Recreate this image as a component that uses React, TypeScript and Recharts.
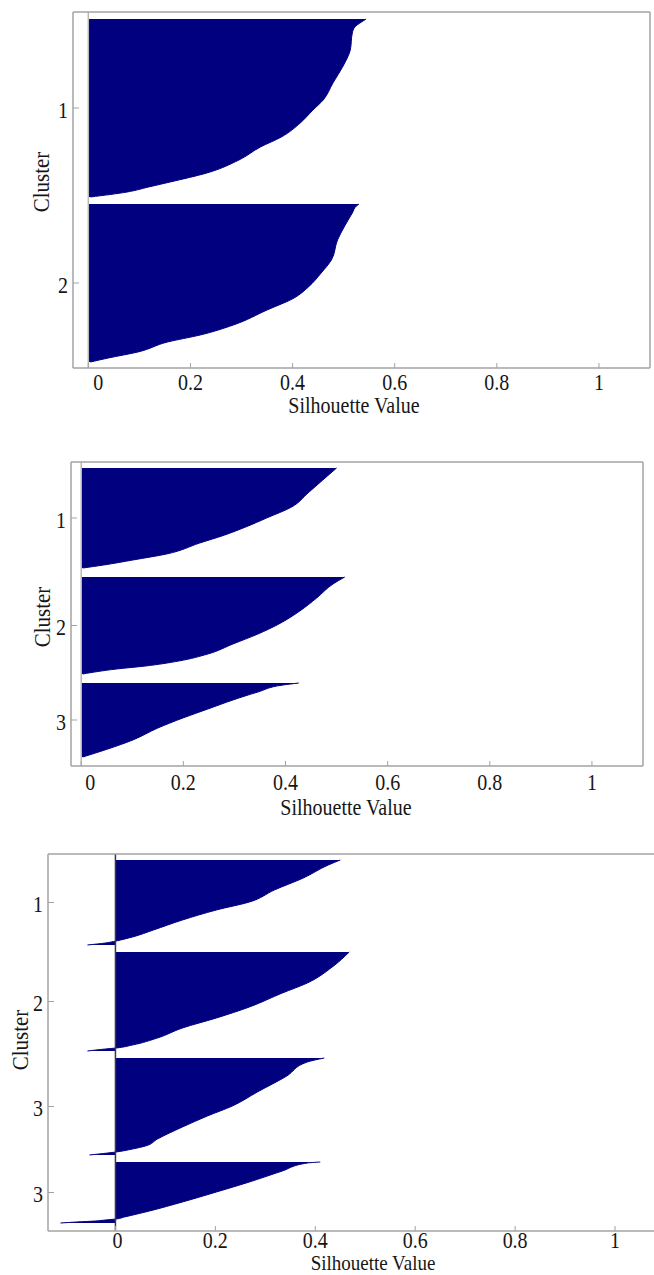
import { Area, ComposedChart, ReferenceLine, XAxis, YAxis } from "recharts"

// silhouette values: obs = rank inside the cluster (0 = best)
const K2_LABELS = ["1", "2"]
const K2_C1_OBS = [0, 3, 8, 14, 31, 47, 64, 81, 91, 104, 118, 128, 141, 154, 163, 168, 173, 178]
const K2_C1_SIL = [0.544, 0.535, 0.522, 0.517, 0.513, 0.499, 0.479, 0.46, 0.44, 0.415, 0.378, 0.337, 0.295, 0.232, 0.16, 0.118, 0.076, 0.004]
const K2_C2_OBS = [0, 2, 9, 23, 36, 56, 69, 83, 94, 106, 121, 131, 138, 148, 154, 158]
const K2_C2_SIL = [0.53, 0.525, 0.517, 0.501, 0.488, 0.476, 0.456, 0.431, 0.403, 0.35, 0.284, 0.219, 0.155, 0.097, 0.039, 0.004]

const K3_LABELS = ["1", "2", "3"]
const K3_C1_OBS = [0, 12, 25, 39, 50, 59, 67, 75, 86, 92, 97, 100]
const K3_C1_SIL = [0.5, 0.473, 0.444, 0.412, 0.363, 0.322, 0.281, 0.232, 0.167, 0.101, 0.044, 0.003]
const K3_C2_OBS = [0, 7, 21, 34, 47, 57, 67, 77, 84, 89, 92, 97]
const K3_C2_SIL = [0.516, 0.493, 0.461, 0.428, 0.387, 0.346, 0.297, 0.248, 0.191, 0.126, 0.069, 0.003]
const K3_C3_OBS = [0, 2, 9, 17, 26, 35, 45, 57, 66, 74]
const K3_C3_SIL = [0.426, 0.395, 0.346, 0.297, 0.248, 0.199, 0.15, 0.101, 0.052, 0.003]

const K4_LABELS = ["1", "2", "3", "3"]
const K4_C1_OBS = [0, 5, 18, 30, 42, 50, 60, 70, 77, 81, 83, 85]
const K4_C1_SIL = [0.45, 0.426, 0.376, 0.318, 0.268, 0.202, 0.134, 0.076, 0.034, 0.001, -0.02, -0.056]
const K4_C2_OBS = [0, 15, 31, 41, 55, 66, 76, 86, 93, 96, 97, 99]
const K4_C2_SIL = [0.468, 0.434, 0.384, 0.334, 0.268, 0.202, 0.134, 0.084, 0.034, 0.001, -0.02, -0.056]
const K4_C3_OBS = [0, 4, 18, 34, 48, 58, 69, 81, 88, 91, 94, 95, 97]
const K4_C3_SIL = [0.418, 0.384, 0.343, 0.284, 0.234, 0.184, 0.134, 0.084, 0.06, 0.034, 0.001, -0.015, -0.052]
const K4_C4_OBS = [0, 1, 9, 20, 30, 40, 49, 55, 57, 58, 59, 60, 61]
const K4_C4_SIL = [0.41, 0.384, 0.334, 0.268, 0.202, 0.134, 0.068, 0.018, 0.001, -0.02, -0.04, -0.078, -0.11]

const X_TICKS = [0, 0.2, 0.4, 0.6, 0.8, 1]

const NAVY = "#01017f"
const FRAME = "#a3a3a3"
const INK = "#161616"
const SERIF = "'Liberation Serif', 'DejaVu Serif', serif"
// the source figure was stretched a little vertically, text too
const STRETCH = 1.12

type Cluster = { obs: number[]; sil: number[] }

function buildRows(clusters: Cluster[], gap: number) {
  const rows: { row: number; s: number | null }[] = []
  const centers: number[] = []
  let start = 0
  clusters.forEach((c) => {
    const last = c.obs[c.obs.length - 1]
    c.obs.forEach((o, i) => rows.push({ row: start + o, s: c.sil[i] }))
    rows.push({ row: start + last + gap / 2, s: null })
    centers.push(start + last / 2)
    start += last + 1 + gap
  })
  return { rows, centers }
}

function Label({ x, y, anchor, text }: { x: number; y: number; anchor: "middle" | "end"; text: string }) {
  return (
    <text
      transform={`translate(${x} ${y}) scale(1 ${STRETCH})`}
      dy="0.35em"
      textAnchor={anchor}
      fontSize={20}
      fontFamily={SERIF}
      style={{ fontFamily: SERIF }}
      fill={INK}
    >
      {text}
    </text>
  )
}

interface PanelProps {
  clusters: Cluster[]
  labels: string[]
  gap: number
  width: number
  height: number
  top: number
  right: number
  leftW: number
  bottomH: number
  xDomain: [number, number]
  yDomain: [number, number]
  labelGap: number
  zeroShift: number
  zeroColor: string
}

function Panel(p: PanelProps) {
  const { rows, centers } = buildRows(p.clusters, p.gap)
  const line = { stroke: FRAME, strokeWidth: 1.5 }

  const xTick = (t: any) => (
    <Label
      x={t.x + (t.payload.value === 0 ? p.zeroShift : 0)}
      y={t.y}
      anchor="middle"
      text={String(t.payload.value)}
    />
  )
  const yTick = (t: any) => (
    <Label x={t.x} y={t.y + 2} anchor="end" text={p.labels[centers.indexOf(t.payload.value)] ?? ""} />
  )

  return (
    <ComposedChart
      width={p.width}
      height={p.height}
      layout="vertical"
      data={rows}
      margin={{ top: p.top - 1, right: p.right - 1, bottom: 0, left: 0 }}
    >
      <XAxis
        xAxisId="b"
        type="number"
        orientation="bottom"
        domain={p.xDomain}
        allowDataOverflow
        ticks={X_TICKS}
        interval={0}
        height={p.bottomH}
        tickSize={-5}
        tickMargin={p.labelGap + 5}
        axisLine={line}
        tickLine={{ stroke: FRAME }}
        tick={xTick}
      />
      <XAxis
        xAxisId="t"
        type="number"
        orientation="top"
        domain={p.xDomain}
        allowDataOverflow
        ticks={X_TICKS}
        interval={0}
        height={1}
        tickSize={-5}
        axisLine={line}
        tickLine={{ stroke: FRAME }}
        tick={false}
      />
      <YAxis
        yAxisId="l"
        type="number"
        dataKey="row"
        orientation="left"
        domain={p.yDomain}
        allowDataOverflow
        ticks={centers}
        interval={0}
        width={p.leftW}
        tickSize={-6}
        tickMargin={11}
        axisLine={line}
        tickLine={{ stroke: FRAME }}
        tick={yTick}
      />
      <YAxis
        yAxisId="r"
        type="number"
        dataKey="row"
        orientation="right"
        domain={p.yDomain}
        allowDataOverflow
        ticks={centers}
        interval={0}
        width={1}
        tickSize={-6}
        axisLine={line}
        tickLine={{ stroke: FRAME }}
        tick={false}
      />
      <ReferenceLine x={0} xAxisId="b" yAxisId="l" stroke={p.zeroColor} strokeWidth={1.5} />
      <Area
        xAxisId="b"
        yAxisId="l"
        dataKey="s"
        type="monotone"
        baseValue={0}
        fill={NAVY}
        fillOpacity={1}
        stroke={NAVY}
        strokeWidth={1}
        dot={false}
        activeDot={false}
        isAnimationActive={false}
      />
    </ComposedChart>
  )
}

function Title({ x, y, text, rotate, size = 20 }: { x: number; y: number; text: string; rotate?: boolean; size?: number }) {
  return (
    <div
      style={{
        position: "absolute",
        left: x,
        top: y,
        transform: rotate
          ? `translate(-50%, -50%) rotate(-90deg) scale(1, ${STRETCH})`
          : `translate(-50%, -50%) scale(1, ${STRETCH})`,
        fontFamily: SERIF,
        fontSize: size,
        lineHeight: 1,
        color: INK,
        whiteSpace: "nowrap",
      }}
    >
      {text}
    </div>
  )
}

export default function App() {
  return (
    <div
      style={{
        position: "absolute",
        left: 0,
        top: 0,
        width: 654,
        height: 1275,
        overflow: "hidden",
        background: "#fff",
      }}
    >
      <div style={{ position: "absolute", left: 0, top: 0 }}>
        <Panel
          clusters={[
            { obs: K2_C1_OBS, sil: K2_C1_SIL },
            { obs: K2_C2_OBS, sil: K2_C2_SIL },
          ]}
          labels={K2_LABELS}
          gap={6}
          width={654}
          height={420}
          top={12}
          right={4}
          leftW={73}
          bottomH={52}
          xDomain={[-0.03, 1.1]}
          yDomain={[-7, 349]}
          labelGap={14}
          zeroShift={10}
          zeroColor="#b8b8b8"
        />
      </div>
      <Title x={354} y={405} text="Silhouette Value" />
      <Title x={42} y={182} text="Cluster" rotate size={21} />

      <div style={{ position: "absolute", left: 0, top: 420 }}>
        <Panel
          clusters={[
            { obs: K3_C1_OBS, sil: K3_C1_SIL },
            { obs: K3_C2_OBS, sil: K3_C2_SIL },
            { obs: K3_C3_OBS, sil: K3_C3_SIL },
          ]}
          labels={K3_LABELS}
          gap={8}
          width={654}
          height={400}
          top={42}
          right={11}
          leftW={71}
          bottomH={54}
          xDomain={[-0.02, 1.1]}
          yDomain={[-6, 298]}
          labelGap={16}
          zeroShift={9}
          zeroColor="#b8b8b8"
        />
      </div>
      <Title x={346} y={807} text="Silhouette Value" />
      <Title x={43} y={617} text="Cluster" rotate size={21} />

      <div style={{ position: "absolute", left: 0, top: 820 }}>
        <Panel
          clusters={[
            { obs: K4_C1_OBS, sil: K4_C1_SIL },
            { obs: K4_C2_OBS, sil: K4_C2_SIL },
            { obs: K4_C3_OBS, sil: K4_C3_SIL },
            { obs: K4_C4_OBS, sil: K4_C4_SIL },
          ]}
          labels={K4_LABELS}
          gap={6}
          width={700}
          height={455}
          top={34}
          right={35}
          leftW={48}
          bottomH={44}
          xDomain={[-0.135, 1.1]}
          yDomain={[-6, 371]}
          labelGap={9}
          zeroShift={2}
          zeroColor="#3a3a3a"
        />
      </div>
      <Title x={373} y={1263} text="Silhouette Value" size={19} />
      <Title x={21} y={1040} text="Cluster" rotate size={21} />
    </div>
  )
}
